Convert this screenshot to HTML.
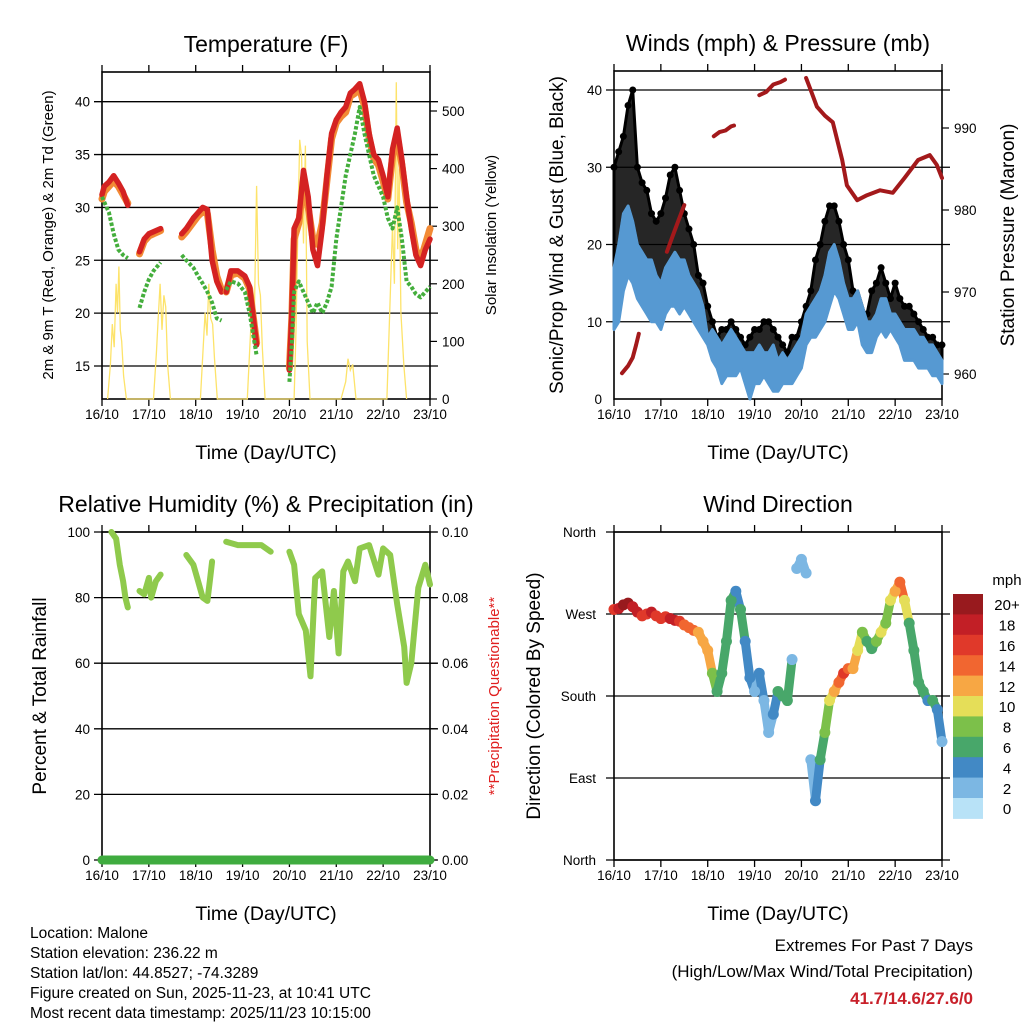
<!DOCTYPE html>
<html><head><meta charset="utf-8"><style>
html,body{margin:0;padding:0;background:#fff}
svg{display:block;font-family:"Liberation Sans",Arial,sans-serif}
</style></head><body>
<svg id="root" width="1024" height="1024" viewBox="0 0 1024 1024" xmlns="http://www.w3.org/2000/svg">
<rect width="1024" height="1024" fill="#fff"/>
<g id="g1"></g>
<g id="g2"></g>
<g id="g3"></g>
<g id="g4"></g>
<g id="gt">
<text x="30" y="938" font-size="15.5">Location: Malone</text>
<text x="30" y="958" font-size="15.5">Station elevation: 236.22 m</text>
<text x="30" y="978" font-size="15.5">Station lat/lon: 44.8527; -74.3289</text>
<text x="30" y="998" font-size="15.5">Figure created on Sun, 2025-11-23, at 10:41 UTC</text>
<text x="30" y="1018" font-size="15.5">Most recent data timestamp: 2025/11/23 10:15:00</text>
<text x="973" y="951" font-size="17" text-anchor="end">Extremes For Past 7 Days</text>
<text x="973" y="977" font-size="17" text-anchor="end">(High/Low/Max Wind/Total Precipitation)</text>
<text x="973" y="1004" font-size="17" font-weight="bold" fill="#c8202a" text-anchor="end">41.7/14.6/27.6/0</text>
</g>
</svg>
<script>
// ---------- data ----------
const dayLabels = ["16/10","17/10","18/10","19/10","20/10","21/10","22/10","23/10"];
const tempT = [[0,0.05,0.15,0.25,0.35,0.45,0.55],[0.8,0.9,1.0,1.1,1.25],[1.7,1.8,1.95,2.05,2.15,2.25,2.35,2.45,2.55],[2.65,2.75,2.9,3.05,3.15,3.3],
  [4.0,4.05,4.1,4.2,4.3,4.4,4.5,4.6,4.7,4.8,4.9,5.0,5.1,5.2,5.3,5.4,5.5,5.6,5.7,5.8,5.9,6.0,6.1,6.2,6.3,6.4,6.5,6.6,6.7,6.8,6.9,7.0]];
const tempRed = [[31.2,32,32.4,33,32.3,31.5,30.2],[25.8,27,27.5,27.7,28],[27.5,28,29,29.5,30,29.8,25,23,22],[22,24,24,23.5,22.5,17],
  [14.6,20,28,29,33.5,31,26,24.5,28,33,37,38.3,39,39.5,40.8,41.2,41.7,40,37,35,34.5,33,31,35.5,37.5,34.5,31,28,25.5,24.5,26,27]];
const tempOrg = [[30.8,31.5,32,32.5,32,31.2,30.4],[25.6,26.8,27.3,27.5,27.8],[27.2,27.7,28.6,29.2,29.6,29.4,26,23.5,22.2],[22,23.6,23.8,23.3,22.3,17.2],
  [14.8,19.5,27,28.5,32.5,30,27,26.5,28.5,32.5,36.5,38,38.6,39,40.5,40.8,41.2,39.6,36.6,34.6,34,32.5,30.8,34.8,36.8,34,30.5,28.5,26,25,26.5,28]];
const tempDew = [[31,30.5,29.5,27.5,26,25.5,25.2],[20.5,22,23.2,24,24.8],[25.5,25,24.3,23.5,22.8,22,21,19.5,19.3],[22.2,23,22.8,22,20,16],
  [13.5,17,22,23,22,21,20,21,20,21,22.5,27,30,33,35,37,39.5,37,35,33,32,31,29,28,30,27,23,22.5,21.8,21.5,22,22.5]];
const solarT = [0.12,0.18,0.22,0.26,0.3,0.33,0.36,0.39,0.42,0.46,0.52, 1.1,1.16,1.2,1.24,1.28,1.32,1.36,1.4,1.46,
  2.1,2.16,2.2,2.24,2.28,2.32,2.36,2.4,2.46, 3.1,3.16,3.2,3.25,3.3,3.34,3.38,3.42,3.48,
  4.1,4.14,4.18,4.22,4.26,4.3,4.34,4.38,4.44, 5.1,5.2,5.25,5.3,5.35,5.42, 6.08,6.14,6.2,6.24,6.28,6.31,6.34,6.38,6.44,6.5];
const solarV = [0,60,130,90,200,150,230,120,100,40,0, 0,80,140,200,120,180,160,60,0,
  0,90,150,110,200,140,130,70,0, 0,100,160,140,370,200,180,90,0,
  0,120,300,450,420,270,440,100,0, 0,30,70,50,60,0, 0,150,300,200,550,260,400,150,60,0];
const windT = [0,0.1,0.2,0.3,0.4,0.5,0.6,0.7,0.8,0.9,1.0,1.1,1.2,1.3,1.4,1.5,1.6,1.7,1.8,1.9,2.0,2.1,2.2,2.3,2.4,2.5,2.6,2.7,2.8,2.9,3.0,3.1,3.2,3.3,3.4,3.5,3.6,3.7,3.8,3.9,4.0,4.1,4.2,4.3,4.4,4.5,4.6,4.7,4.8,4.9,5.0,5.1,5.2,5.3,5.4,5.5,5.6,5.7,5.8,5.9,6.0,6.1,6.2,6.3,6.4,6.5,6.6,6.7,6.8,6.9,7.0];
const windLo = [9,10,14,16,15,13,12,11,10,10,9,11,12,12,11,12,11,10,9,8,7,5,4,2,3,3,3,4,2,0,2,2,3,2,1,1,2,2,2,3,4,7,8,8,9,10,12,14,13,11,9,9,10,7,6,6,8,9,8,9,8,7,5,5,5,4,4,4,3,3,2];
const windHi = [17,20,24,25,23,20,19,18,18,16,15,17,18,19,18,18,16,15,14,12,8,9,8,7,8,9,8,7,6,6,6,7,6,6,7,5,6,5,6,7,8,11,12,13,14,16,19,20,18,15,13,13,14,12,10,10,11,13,13,11,11,10,9,9,9,8,8,7,7,6,5];
const gustHi = [30,32,34,38,40,30,28,27,24,23,24,26,29,30,27,24,22,20,16,15,12,10,8,9,9,10,9,8,7,8,9,9,10,10,9,8,7,6,8,8,10,12,14,18,20,23,25,25,23,20,18,14,12,11,11,14,15,17,15,13,15,13,12,12,11,10,9,8,8,7,7];
const presT = [[0.17,0.3,0.4,0.47,0.53],[1.13,1.25,1.38,1.5],[2.13,2.25,2.38,2.5,2.56],[3.1,3.25,3.4,3.55,3.65],
  [4.1,4.2,4.33,4.5,4.67,4.87,4.97,5.19,5.4,5.68,5.95,6.2,6.49,6.74,6.89,7.0]];
const presV = [[960.1,961,962,963.5,964.9],[974.9,976.8,978.8,980.6],[989,989.5,989.7,990.2,990.3],[994,994.4,995.3,995.6,995.9],
  [996.1,994.6,992.6,991.5,990.7,986.1,983,981.2,981.8,982.4,982.1,983.9,986.1,986.7,985.5,983.9]];
const rhT = [[0.2,0.3,0.38,0.45,0.5,0.55],[0.8,0.9,1.0,1.05,1.15,1.25],[1.8,1.95,2.05,2.15,2.25,2.3,2.35],[2.65,2.9,3.4,3.6],
  [4.0,4.1,4.2,4.35,4.45,4.55,4.7,4.85,4.95,5.05,5.15,5.25,5.4,5.5,5.7,5.9,6.0,6.15,6.3,6.45,6.5,6.6,6.75,6.9,7.0]];
const rhV = [[100,98,90,85,80,77],[82,81,86,80,85,87],[93,90,85,80,79,85,91],[97,96,96,94],
  [94,90,75,70,56,86,88,68,82,63,88,91,85,95,96,87,95,93,78,65,54,60,83,90,84]];
const precipT = [0,7];
const precipV = [0,0];
const dirT = windT;
const dirV = [275,276,280,282,278,272,268,270,272,268,265,267,265,263,262,258,255,252,250,240,230,205,185,205,240,285,295,275,240,200,185,205,175,140,160,185,180,175,220,320,330,315,110,65,110,140,175,185,195,205,210,210,230,250,240,232,240,250,260,285,295,305,285,260,230,195,185,175,175,165,130];
const spdV = [16,18,20,21,19,18,17,17,18,16,17,17,19,18,16,15,14,14,12,13,12,8,6,7,6,7,5,6,5,4,3,5,2,3,4,6,7,6,3,2,2,3,3,4,7,8,10,12,14,16,14,12,10,8,6,6,8,10,8,10,12,14,10,6,6,6,6,5,6,4,3];
const cbLabels = ["20+","18","16","14","12","10","8","6","4","2","0"];
const cbColors = ["#981a1e","#c21f26","#e0392a","#f16630","#f7a744","#e5de58","#7cc04a","#48a76a","#4289c5","#7cb7e3","#b8e2f7"];

// ---------- helpers ----------
const NS = "http://www.w3.org/2000/svg";
function el(parent, tag, attrs, txt){
  const e = document.createElementNS(NS, tag);
  for (const k in attrs) e.setAttribute(k, attrs[k]);
  if (txt !== undefined) e.textContent = txt;
  parent.appendChild(e);
  return e;
}
function scaleX(x0,x1){ return t => x0 + (x1-x0)*t/7; }
function scaleY(v0,v1,y0,y1){ return v => y0 + (y1-y0)*(v-v0)/(v1-v0); }
function pathD(ts, vs, sx, sy){ return ts.map((t,i)=>(i?"L":"M")+sx(t).toFixed(1)+","+sy(vs[i]).toFixed(1)).join(""); }

function frame(g, x0, x1, y0, y1, leftTicks, ly, rightTicks, ry, gridVals, title){
  const sx = scaleX(x0,x1);
  gridVals.forEach(v=>{
    const l = el(g,"line",{x1:x0-8,x2:x1+8,y1:ly(v),y2:ly(v),stroke:"#000","stroke-width":1.3});
    
    
  });
  const r = el(g,"rect",{x:x0,y:y0,width:x1-x0,height:y1-y0,fill:"none",stroke:"#000","stroke-width":1.6});
  
  
  dayLabels.forEach((d,i)=>{
    const x = sx(i);
    const t1 = el(g,"line",{x1:x,x2:x,y1:y1,y2:y1+7,stroke:"#000","stroke-width":1.3});
    
    
    const t2 = el(g,"line",{x1:x,x2:x,y1:y0,y2:y0-7,stroke:"#000","stroke-width":1.3});
    
    
    const lb = el(g,"text",{x:x,y:y1+20,"font-size":13.5,"text-anchor":"middle"},d);
    
    
  });
  leftTicks.forEach(v=>{
    const lb = el(g,"text",{x:x0-12,y:ly(v)+5,"font-size":13.5,"text-anchor":"end"},v);
    
    
  });
  if (rightTicks) rightTicks.forEach(v=>{
    const t = el(g,"line",{x1:x1,x2:x1+7,y1:ry(v.v),y2:ry(v.v),stroke:"#000","stroke-width":1.2});
    
    
    const lb = el(g,"text",{x:x1+12,y:ry(v.v)+5,"font-size":13.5},v.l);
    
    
  });
  const tt = el(g,"text",{x:(x0+x1)/2,y:y0-20,"font-size":23,"text-anchor":"middle"},title);
  
  
  const xl = el(g,"text",{x:(x0+x1)/2,y:y1+60,"font-size":19.5,"text-anchor":"middle"},"Time (Day/UTC)");
  
  
  return sx;
}

// ---------- panel 1 ----------
(function(){
  const g = document.getElementById("g1");
  const x0=102,x1=430,y0=72,y1=399;
  const ly = scaleY(15,40,366,101.7);
  const ry = scaleY(0,500,399,111);
  const rt = [0,100,200,300,400,500].map(v=>({v:v,l:v}));
  const sx = frame(g,x0,x1,y0,y1,[15,20,25,30,35,40],ly,rt,ry,[15,20,25,30,35,40],"Temperature (F)");
  const sol = el(g,"path",{d:pathD(solarT,solarV,sx,ry),fill:"none",stroke:"#fde36a","stroke-width":1.3});
  
  
  tempT.forEach((ts,i)=>{
    const p1 = el(g,"path",{d:pathD(ts,tempOrg[i],sx,ly),fill:"none",stroke:"#f28a35","stroke-width":7,"stroke-linecap":"round","stroke-linejoin":"round"});
    
    
    const p2 = el(g,"path",{d:pathD(ts,tempRed[i],sx,ly),fill:"none",stroke:"#d42222","stroke-width":5.5,"stroke-linecap":"round","stroke-linejoin":"round"});
    
    
    const p3 = el(g,"path",{d:pathD(ts,tempDew[i],sx,ly),fill:"none",stroke:"#44ae3c","stroke-width":4,"stroke-dasharray":"3.5 2","stroke-linejoin":"round"});
    
    
  });
  const yl = el(g,"text",{transform:"translate(53,235) rotate(-90)","font-size":15,"text-anchor":"middle"},"2m & 9m T (Red, Orange) & 2m Td (Green)");
  
  
  const rl = el(g,"text",{transform:"translate(496,235) rotate(-90)","font-size":15,"text-anchor":"middle"},"Solar Insolation (Yellow)");
  
  
})();

// ---------- panel 2 ----------
(function(){
  const g = document.getElementById("g2");
  const x0=614,x1=942,y0=71,y1=399;
  const ly = scaleY(0,40,399,90);
  const ry = scaleY(960,990,374,128);
  const rt = [960,970,980,990].map(v=>({v:v,l:v}));
  const sx = frame(g,x0,x1,y0,y1,[0,10,20,30,40],ly,rt,ry,[10,20,30,40],"Winds (mph) & Pressure (mb)");
  const gd = pathD(windT,gustHi,sx,ly) + windT.slice().reverse().map((t,i)=>"L"+sx(t).toFixed(1)+","+ly(windHi[windT.length-1-i]).toFixed(1)).join("")+"Z";
  const gb = el(g,"path",{d:gd,fill:"#000","fill-opacity":0.85,stroke:"#000","stroke-width":3,"stroke-linejoin":"round"});
  
  
  windT.forEach((t,i)=>{
    const c = el(g,"circle",{cx:sx(t),cy:ly(gustHi[i]),r:3.5,fill:"#000"});
    
    
  });
  const wd = pathD(windT,windHi,sx,ly) + windT.slice().reverse().map((t,i)=>"L"+sx(t).toFixed(1)+","+ly(windLo[windT.length-1-i]).toFixed(1)).join("")+"Z";
  const wb = el(g,"path",{d:wd,fill:"#5699d2",stroke:"#5699d2","stroke-width":3,"stroke-linejoin":"round"});
  
  
  presT.forEach((ts,i)=>{
    const p = el(g,"path",{d:pathD(ts,presV[i],sx,ry),fill:"none",stroke:"#a3191b","stroke-width":4,"stroke-linecap":"round","stroke-linejoin":"round"});
    
    
  });
  const yl = el(g,"text",{transform:"translate(563,235) rotate(-90)","font-size":19,"text-anchor":"middle"},"Sonic/Prop Wind & Gust (Blue, Black)");
  
  
  const rl = el(g,"text",{transform:"translate(1014,235) rotate(-90)","font-size":19,"text-anchor":"middle"},"Station Pressure (Maroon)");
  
  
})();

// ---------- panel 3 ----------
(function(){
  const g = document.getElementById("g3");
  const x0=102,x1=430,y0=532,y1=860;
  const ly = scaleY(0,100,860,532);
  const ry = scaleY(0,0.1,860,532);
  const rt = [0,0.02,0.04,0.06,0.08,0.1].map(v=>({v:v,l:v.toFixed(2)}));
  const sx = frame(g,x0,x1,y0,y1,[0,20,40,60,80,100],ly,rt,ry,[0,20,40,60,80,100],"Relative Humidity (%) & Precipitation (in)");
  const pr = el(g,"path",{d:pathD(precipT,precipV,sx,ry),fill:"none",stroke:"#3fac3f","stroke-width":9,"stroke-linecap":"round"});
  
  
  rhT.forEach((ts,i)=>{
    const p = el(g,"path",{d:pathD(ts,rhV[i],sx,ly),fill:"none",stroke:"#8fca4c","stroke-width":6,"stroke-linecap":"round","stroke-linejoin":"round"});
    
    
  });
  const yl = el(g,"text",{transform:"translate(46,696) rotate(-90)","font-size":19,"text-anchor":"middle"},"Percent & Total Rainfall");
  
  
  const rl = el(g,"text",{transform:"translate(499,696) rotate(-90)","font-size":15,"text-anchor":"middle",fill:"#e02020"},"**Precipitation Questionable**");
  
  
})();

// ---------- panel 4 ----------
(function(){
  const g = document.getElementById("g4");
  const x0=614,x1=942,y0=532,y1=860;
  const ly = scaleY(0,360,860,532);
  const sx = frame(g,x0,x1,y0,y1,[],ly,null,null,[0,90,180,270,360],"Wind Direction");
  ["North","East","South","West","North"].forEach((n,i)=>{
    const lb = el(g,"text",{x:x0-18,y:ly(i*90)+5,"font-size":13.5,"text-anchor":"end"},n);
    
    
  });
  const col = s => cbColors[10-Math.max(0,Math.min(10,Math.floor(s/2)))];
  for (let i=0;i<dirT.length-1;i++){
    if (Math.abs(dirV[i+1]-dirV[i])>60) continue;
    const s = el(g,"line",{x1:sx(dirT[i]),y1:ly(dirV[i]),x2:sx(dirT[i+1]),y2:ly(dirV[i+1]),stroke:col(spdV[i]),"stroke-width":9,"stroke-linecap":"round"});
    
    
  }
  dirT.forEach((t,i)=>{
    const c = el(g,"circle",{cx:sx(t),cy:ly(dirV[i]),r:5.5,fill:col(spdV[i])});
    
    
  });
  const yl = el(g,"text",{transform:"translate(540,696) rotate(-90)","font-size":19,"text-anchor":"middle"},"Direction (Colored By Speed)");
  
  
  const cbx=953, cby=594, bh=20.4;
  cbColors.forEach((c,i)=>{
    const r = el(g,"rect",{x:cbx,y:cby+i*bh,width:30,height:bh+0.5,fill:c});
    
    
    const lb = el(g,"text",{x:cbx+54,y:cby+i*bh+bh/2+6,"font-size":15,"text-anchor":"middle"},cbLabels[i]);
    
    
  });
  const u = el(g,"text",{x:cbx+54,y:cby-9,"font-size":15,"text-anchor":"middle"},"mph");
  
  
})();
</script>
</body></html>
